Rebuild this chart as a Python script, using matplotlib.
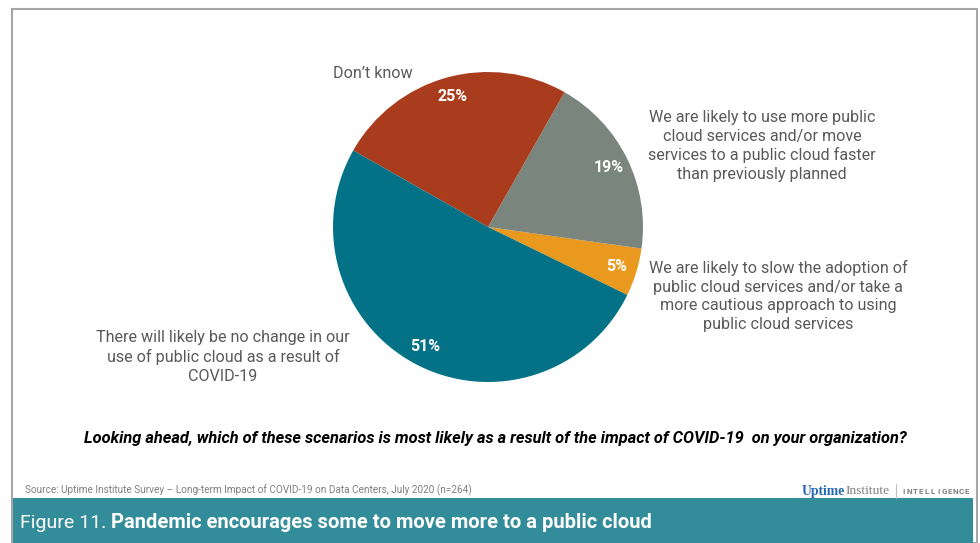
import matplotlib
matplotlib.use("Agg")
import matplotlib.pyplot as plt
from matplotlib.patches import Rectangle
from matplotlib.lines import Line2D

plt.rcParams['font.family'] = ['Roboto', 'DejaVu Sans']

# data (counter-clockwise order starting from the orange slice)
categories = [
    "We are likely to slow the adoption of\npublic cloud services and/or take a\nmore cautious approach to using\npublic cloud services",
    "We are likely to use more public\ncloud services and/or move\nservices to a public cloud faster\nthan previously planned",
    "Don\u2019t know",
    "There will likely be no change in our\nuse of public cloud as a result of\nCOVID-19",
]
shares = [5, 19, 25, 51]
colors = ["#E8991E", "#7A857E", "#A93C1C", "#037287"]
# where each category label sits (pixel centres in the 980x543 picture)
label_pos = [(778, 296), (762, 146), (373, 73), (223, 357)]

question = ("Looking ahead, which of these scenarios is most likely as a result of the "
            "impact of COVID-19  on your organization?")
source = ("Source: Uptime Institute Survey \u2013 Long-term Impact of COVID-19 on Data Centers, "
          "July 2020 (n=264)")
fig_no = "Figure 11. "
fig_title = "Pandemic encourages some to move more to a public cloud"

W, H = 980, 543


def px(x, y):
    return x / W, 1 - y / H


fig = plt.figure(figsize=(W / 100, H / 100), dpi=100)
fig.patch.set_facecolor("white")
renderer = fig.canvas.get_renderer()

# outer frame
frame = Rectangle(px(12, 543), (977 - 12) / W, (543 - 9) / H, transform=fig.transFigure,
                  fill=False, edgecolor="#A6A6A6", linewidth=1.5)
fig.add_artist(frame)

# pie
cx, cy, r = 488, 227, 155
ax = fig.add_axes([(cx - r) / W, 1 - (cy + r) / H, 2 * r / W, 2 * r / H])
wedges, _, autotexts = ax.pie(shares, colors=colors, startangle=-26, counterclock=True,
                              autopct=lambda p: f"{p:.0f}%", pctdistance=0.87,
                              wedgeprops=dict(linewidth=0),
                              textprops=dict(color="white", fontsize=11.5, fontweight="bold"))
ax.set_xlim(-1, 1)
ax.set_ylim(-1, 1)
ax.set_aspect("equal")
ax.axis("off")

for lab, (x, y) in zip(categories, label_pos):
    fig.text(*px(x, y), lab, ha="center", va="center", fontsize=11.6, color="#595959",
             linespacing=1.28)

fig.text(*px(495, 439), question, ha="center", va="center", fontsize=11.8,
         fontweight="bold", fontstyle="italic", color="black")

fig.text(*px(25, 490), source, ha="left", va="center", fontsize=7.2, color="#7F7F7F")

# logo
fig.text(*px(845, 491), "Uptime", ha="right", va="center", fontsize=9.8,
         fontweight="bold", color="#2266B5", family="Liberation Serif")
fig.text(*px(845, 491), "Institute", ha="left", va="center", fontsize=9.6,
         color="#7F7F7F", family="Liberation Serif")
fig.add_artist(Line2D([896 / W, 896 / W], [1 - 484 / H, 1 - 498 / H], color="#BFBFBF",
                      linewidth=0.8, transform=fig.transFigure))
for i, ch in enumerate("INTELLIGENCE"):
    fig.text(*px(904 + i * 5.7, 491), ch, ha="center", va="center", fontsize=5.8,
             fontweight="bold", color="#7F7F7F")

# title bar
bar = Rectangle(px(13, 543), (973 - 13) / W, (543 - 498) / H, transform=fig.transFigure,
                facecolor="#338C99", edgecolor="none")
fig.add_artist(bar)
t1 = fig.text(*px(20, 523), fig_no, ha="left", va="center", fontsize=14, color="white")
x_title = t1.get_window_extent(renderer).x1
fig.text(x_title / W, 1 - 523 / H, fig_title, ha="left", va="center", fontsize=14.5,
         fontweight="bold", color="white")

fig.savefig("out.png", dpi=100)
